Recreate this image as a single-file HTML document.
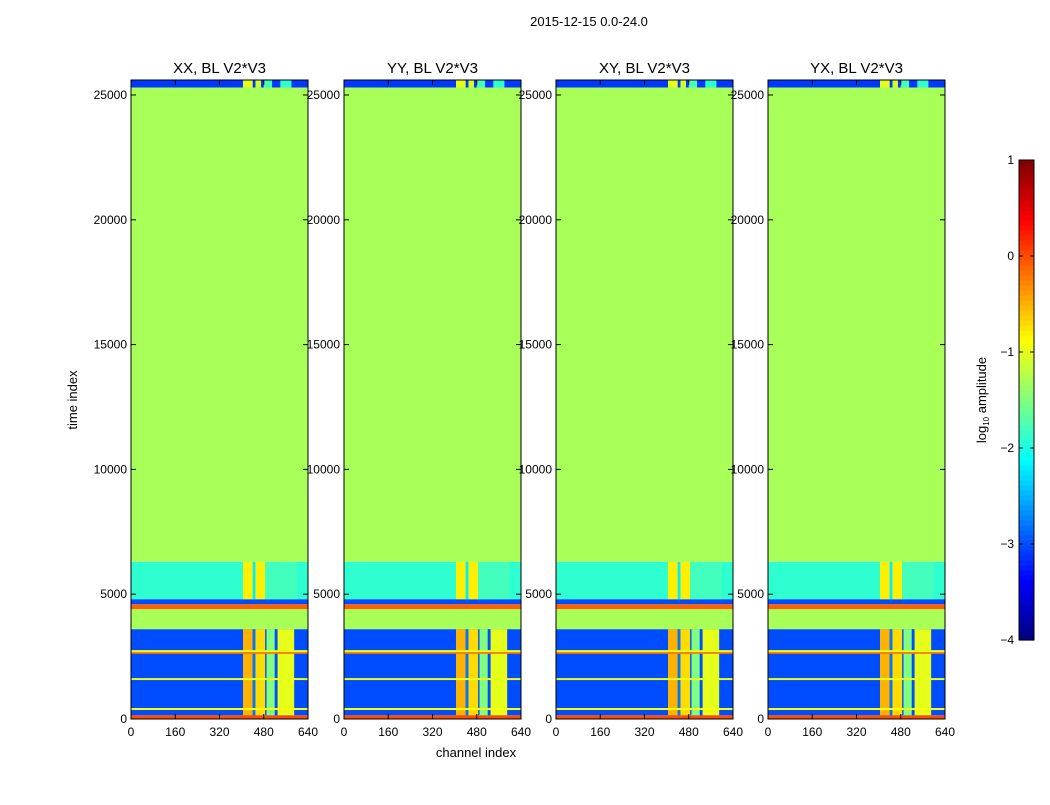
<!DOCTYPE html>
<html><head><meta charset="utf-8"><style>
body{margin:0;background:#fff;}
svg text{font-family:"Liberation Sans",sans-serif;fill:#000;}
</style></head><body>
<svg id="fig" width="1050" height="800" xmlns="http://www.w3.org/2000/svg">
<rect width="1050" height="800" fill="#fff"/>
<text x="589" y="26" font-size="13" text-anchor="middle">2015-12-15 0.0-24.0</text>
<text x="476" y="757" font-size="13" text-anchor="middle">channel index</text>
<text transform="translate(77,400) rotate(-90)" font-size="13" text-anchor="middle">time index</text>
<g id="panels"></g>
<g id="cbar"></g>
</svg>
<script>
const panelTitles = ["XX, BL V2*V3","YY, BL V2*V3","XY, BL V2*V3","YX, BL V2*V3"];
const yTicks = [0,5000,10000,15000,20000,25000];
const xTicks = [0,160,320,480,640];
const cbarTicks = [-4,-3,-2,-1,0,1];
const bandStart = [0,   150, 3600, 4400, 4600, 4800, 6300, 25300];
const bandEnd   = [150, 3600,4400, 4600, 4800, 6300, 25300,25600];
const bandLevel = [0.0, -3.0,-1.3, -0.1, -3.0, -1.9, -1.3, -3.1];
const bandRegion= ["none","low","none","none","none","mid","none","top"];
const lineTimes = [400, 1600, 2650, 2720];
const lineLevels= [-0.9, -1.0, -0.2, -1.0];
const lowColStart=[405,440,450,490,520,530];
const lowColEnd  =[440,450,485,520,530,590];
const lowColLevel=[-0.5,-2.8,-0.7,-1.5,-3.0,-1.0];
const midColStart=[405,440,450,485];
const midColEnd  =[440,450,485,600];
const midColLevel=[-0.8,-2.2,-0.8,-1.8];
const topColStart=[405,450,480,540];
const topColEnd  =[440,470,510,580];
const topColLevel=[-1.0,-1.1,-1.8,-1.9];

function jet(v){
  let t=(v+4)/5; t=Math.max(0,Math.min(1,t));
  const c=x=>Math.round(255*Math.max(0,Math.min(1,x)));
  const r=1.5-Math.abs(4*t-3), g=1.5-Math.abs(4*t-2), b=1.5-Math.abs(4*t-1);
  return `rgb(${c(r)},${c(g)},${c(b)})`;
}
const NS="http://www.w3.org/2000/svg";
function el(tag,attrs,parent){const e=document.createElementNS(NS,tag);for(const k in attrs)e.setAttribute(k,attrs[k]);parent.appendChild(e);return e;}
const panelX=[131,344,556,768], pw=177, plotTop=80, plotBottom=719, tMax=25600;
const ys=t=>plotBottom-(t/tMax)*(plotBottom-plotTop);
const panelsG=document.getElementById('panels');
panelX.forEach((px,pi)=>{
  const xs=c=>px+c/640*pw;
  const g=el('g',{},panelsG);
  
  
  bandStart.forEach((s,i)=>{
    const r=el('rect',{x:px,y:ys(bandEnd[i]),width:pw,height:ys(s)-ys(bandEnd[i]),fill:jet(bandLevel[i])},g);
    
    
    let cs=null,ce,cl;
    if(bandRegion[i]==='low'){cs=lowColStart;ce=lowColEnd;cl=lowColLevel;}
    if(bandRegion[i]==='mid'){cs=midColStart;ce=midColEnd;cl=midColLevel;}
    if(bandRegion[i]==='top'){cs=topColStart;ce=topColEnd;cl=topColLevel;}
    if(cs){cs.forEach((c0,j)=>{
      const cr=el('rect',{x:xs(c0),y:ys(bandEnd[i]),width:xs(ce[j])-xs(c0),height:ys(s)-ys(bandEnd[i]),fill:jet(cl[j])},g);
      
      
    });}
  });
  lineTimes.forEach((t,i)=>{
    const l=el('rect',{x:px,y:ys(t)-1,width:pw,height:2,fill:jet(lineLevels[i])},g);
    
    
  });
  el('rect',{x:px,y:plotTop,width:pw,height:plotBottom-plotTop,fill:'none',stroke:'#000','stroke-width':1},g);
  const tt=el('text',{x:px+pw/2,y:73,'font-size':15,'text-anchor':'middle'},g);
  tt.textContent=panelTitles[pi];
  
  
  yTicks.forEach(v=>{
    const y=ys(v);
    el('line',{x1:px,x2:px+5,y1:y,y2:y,stroke:'#000'},g);
    el('line',{x1:px+pw,x2:px+pw-5,y1:y,y2:y,stroke:'#000'},g);
    const t=el('text',{x:px-4,y:y+4,'font-size':12,'text-anchor':'end'},g);
    t.textContent=v;
    
    
  });
  xTicks.forEach(v=>{
    const x=xs(v);
    el('line',{x1:x,x2:x,y1:plotBottom,y2:plotBottom-5,stroke:'#000'},g);
    el('line',{x1:x,x2:x,y1:plotTop,y2:plotTop+5,stroke:'#000'},g);
    const t=el('text',{x:x,y:736,'font-size':12,'text-anchor':'middle'},g);
    t.textContent=v;
    
    
  });
});
const cb=document.getElementById('cbar');
const cx=1019,cw=15,cTop=160,cBot=640;
const cy=v=>cBot-(v+4)/5*(cBot-cTop);
for(let i=0;i<96;i++){
  const v0=-4+i*5/96;
  el('rect',{x:cx,y:cy(v0+5/96),width:cw,height:(cBot-cTop)/96+0.6,fill:jet(v0+2.5/96)},cb);
}
const cbf=el('rect',{x:cx,y:cTop,width:cw,height:cBot-cTop,fill:'none',stroke:'#000'},cb);


cbarTicks.forEach(v=>{
  el('line',{x1:cx,x2:cx+4,y1:cy(v),y2:cy(v),stroke:'#000'},cb);
  el('line',{x1:cx+cw,x2:cx+cw-4,y1:cy(v),y2:cy(v),stroke:'#000'},cb);
  const t=el('text',{x:cx-5,y:cy(v)+4,'font-size':12,'text-anchor':'end'},cb);
  t.textContent=(v<0?'\u2212'+(-v):v);
  
  
});
const lab=el('text',{transform:'translate(986,400) rotate(-90)','font-size':13,'text-anchor':'middle'},cb);
lab.innerHTML='log<tspan font-size="8" dy="3">10</tspan><tspan dy="-3"> amplitude</tspan>';


</script>
</body></html>
